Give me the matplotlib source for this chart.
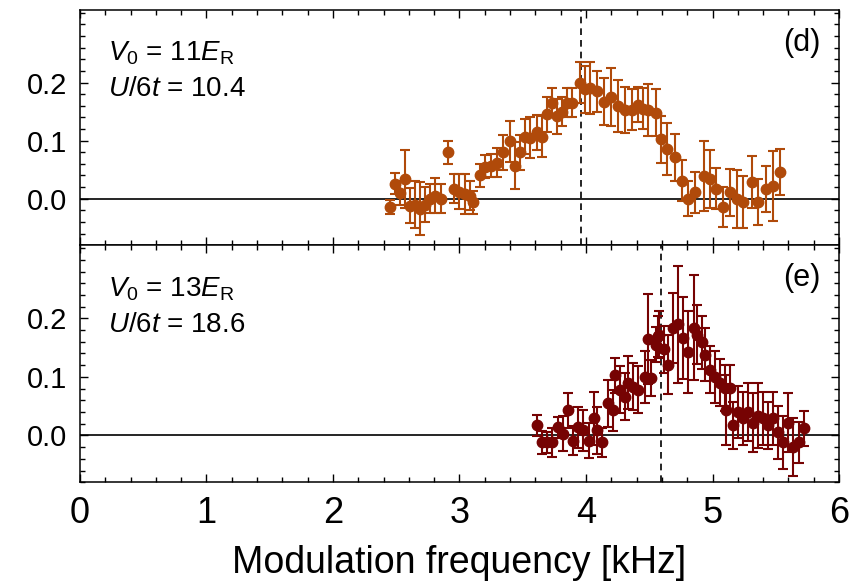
import matplotlib as mpl
import matplotlib.pyplot as plt
from matplotlib.ticker import MultipleLocator, FixedLocator

# -- data ------------------------------------------------------------------
freq_d = [2.45, 2.49, 2.53, 2.57, 2.61, 2.65, 2.69, 2.73, 2.77, 2.81, 2.85,
          2.91, 2.96, 3.00, 3.04, 3.08, 3.11, 3.16, 3.20, 3.25, 3.30, 3.34,
          3.40, 3.44, 3.48, 3.52, 3.56, 3.61, 3.65, 3.69, 3.73, 3.77, 3.81,
          3.85, 3.89, 3.95, 3.99, 4.03, 4.09, 4.14, 4.20, 4.25, 4.31, 4.36,
          4.41, 4.45, 4.49, 4.55, 4.59, 4.64, 4.70, 4.76, 4.81, 4.86, 4.93,
          4.98, 5.03, 5.08, 5.14, 5.19, 5.24, 5.31, 5.36, 5.42, 5.48, 5.53]
sig_d = [-0.015, 0.026, 0.010, 0.034, -0.012, -0.010, -0.017, -0.010, 0.000,
         0.005, 0.000, 0.080, 0.017, 0.012, 0.008, 0.005, -0.006, 0.040,
         0.055, 0.057, 0.062, 0.080, 0.099, 0.057, 0.080, 0.107, 0.105,
         0.114, 0.107, 0.145, 0.165, 0.142, 0.150, 0.165, 0.165, 0.200,
         0.188, 0.190, 0.185, 0.167, 0.175, 0.159, 0.153, 0.153, 0.162,
         0.155, 0.153, 0.148, 0.102, 0.085, 0.071, 0.031, 0.000, 0.011,
         0.039, 0.034, 0.017, -0.014, 0.011, 0.000, -0.006, 0.029, -0.006,
         0.017, 0.022, 0.046]
err_d = [0.012, 0.018, 0.020, 0.050, 0.030, 0.040, 0.045, 0.030, 0.025,
         0.030, 0.025, 0.020, 0.025, 0.030, 0.035, 0.025, 0.020, 0.020,
         0.020, 0.020, 0.025, 0.030, 0.035, 0.040, 0.030, 0.030, 0.035,
         0.030, 0.035, 0.030, 0.025, 0.030, 0.025, 0.025, 0.025, 0.035,
         0.040, 0.045, 0.035, 0.040, 0.050, 0.045, 0.040, 0.035, 0.030,
         0.035, 0.045, 0.040, 0.040, 0.045, 0.040, 0.035, 0.030, 0.035,
         0.060, 0.050, 0.035, 0.035, 0.040, 0.050, 0.045, 0.045, 0.040,
         0.040, 0.060, 0.040]

freq_e = [3.61, 3.65, 3.69, 3.73, 3.78, 3.82, 3.86, 3.90, 3.94, 3.98, 4.02,
          4.06, 4.09, 4.13, 4.17, 4.21, 4.23, 4.27, 4.31, 4.33, 4.37, 4.41,
          4.47, 4.49, 4.51, 4.55, 4.57, 4.58, 4.62, 4.65, 4.69, 4.73, 4.77,
          4.81, 4.85, 4.88, 4.92, 4.94, 4.98, 5.02, 5.06, 5.10, 5.11, 5.14,
          5.16, 5.20, 5.24, 5.28, 5.32, 5.36, 5.40, 5.44, 5.48, 5.52, 5.56,
          5.60, 5.64, 5.68, 5.72]
sig_e = [0.017, -0.012, -0.012, -0.012, 0.014, 0.003, 0.043, -0.009, 0.014,
         0.009, -0.009, 0.029, 0.009, -0.012, 0.055, 0.043, 0.103, 0.078,
         0.066, 0.090, 0.083, 0.078, 0.100, 0.164, 0.098, 0.155, 0.169,
         0.172, 0.147, 0.121, 0.184, 0.190, 0.167, 0.143, 0.184, 0.172,
         0.159, 0.138, 0.112, 0.100, 0.090, 0.081, 0.043, 0.081, 0.017,
         0.040, 0.029, 0.040, 0.022, 0.034, 0.029, 0.017, 0.029, 0.005,
         -0.012, 0.022, -0.020, -0.012, 0.012]
err_e = [0.018, 0.020, 0.018, 0.025, 0.018, 0.030, 0.030, 0.025, 0.035,
         0.035, 0.030, 0.045, 0.040, 0.025, 0.040, 0.035, 0.030, 0.040,
         0.040, 0.045, 0.040, 0.040, 0.045, 0.077, 0.030, 0.030, 0.035,
         0.040, 0.040, 0.050, 0.060, 0.100, 0.070, 0.070, 0.090, 0.050,
         0.045, 0.045, 0.040, 0.045, 0.040, 0.040, 0.060, 0.040, 0.040,
         0.045, 0.045, 0.050, 0.050, 0.055, 0.045, 0.040, 0.045, 0.045,
         0.045, 0.050, 0.050, 0.035, 0.030]

peak_d = 3.96
peak_e = 4.59

# -- style -------------------------------------------------------------------
mpl.rcParams.update({
    "font.family": "Liberation Sans",
    "mathtext.fontset": "custom",
    "mathtext.rm": "Liberation Sans",
    "mathtext.it": "Liberation Sans:italic",
    "axes.linewidth": 1.1,
})

col_d = "#B04A0A"
col_e = "#760303"

fig = plt.figure(figsize=(8.6, 5.81), dpi=100)
ax_d = fig.add_axes([0.093, 0.578, 0.8826, 0.405])
ax_e = fig.add_axes([0.093, 0.170, 0.8826, 0.408], sharex=ax_d)

panels = [
    (ax_d, freq_d, sig_d, err_d, col_d, peak_d,
     r"$V_0$ = 11$E_{\rm R}$", r"$U$/6$t$ = 10.4", "(d)"),
    (ax_e, freq_e, sig_e, err_e, col_e, peak_e,
     r"$V_0$ = 13$E_{\rm R}$", r"$U$/6$t$ = 18.6", "(e)"),
]

for ax, f, s, e, col, peak, txt1, txt2, tag in panels:
    ax.axhline(0.0, color="k", lw=1.2, zorder=1)
    ax.axvline(peak, color="k", lw=1.2, ls=(0, (4, 3)), zorder=1)
    ax.errorbar(f, s, yerr=e, fmt="o", color=col, ms=7.5, elinewidth=1.5,
                capsize=3.8, capthick=1.5, zorder=3)
    ax.set_xlim(0, 6)
    ax.set_ylim(-0.08, 0.325)
    ax.yaxis.set_major_locator(FixedLocator([0.0, 0.1, 0.2]))
    ax.yaxis.set_minor_locator(MultipleLocator(0.02))
    ax.xaxis.set_major_locator(MultipleLocator(1))
    ax.xaxis.set_minor_locator(MultipleLocator(0.2))
    ax.yaxis.set_major_formatter(mpl.ticker.FormatStrFormatter("%.1f"))
    ax.tick_params(which="both", direction="in", top=True, right=True,
                   width=1.0)
    ax.tick_params(which="major", length=6)
    ax.tick_params(which="minor", length=3.5)
    ax.tick_params(axis="y", labelsize=21, pad=9)
    ax.text(0.037, 0.815, txt1, transform=ax.transAxes, fontsize=20,
            va="center", ha="left")
    ax.text(0.037, 0.665, txt2, transform=ax.transAxes, fontsize=20,
            va="center", ha="left")
    ax.text(0.975, 0.86, tag, transform=ax.transAxes, fontsize=22,
            va="center", ha="right")

ax_d.tick_params(axis="x", labelbottom=False)
ax_e.tick_params(axis="x", labelsize=26, pad=10)
ax_e.set_xlabel("Modulation frequency [kHz]", fontsize=27, labelpad=10)

fig.savefig("out.png", dpi=100)
